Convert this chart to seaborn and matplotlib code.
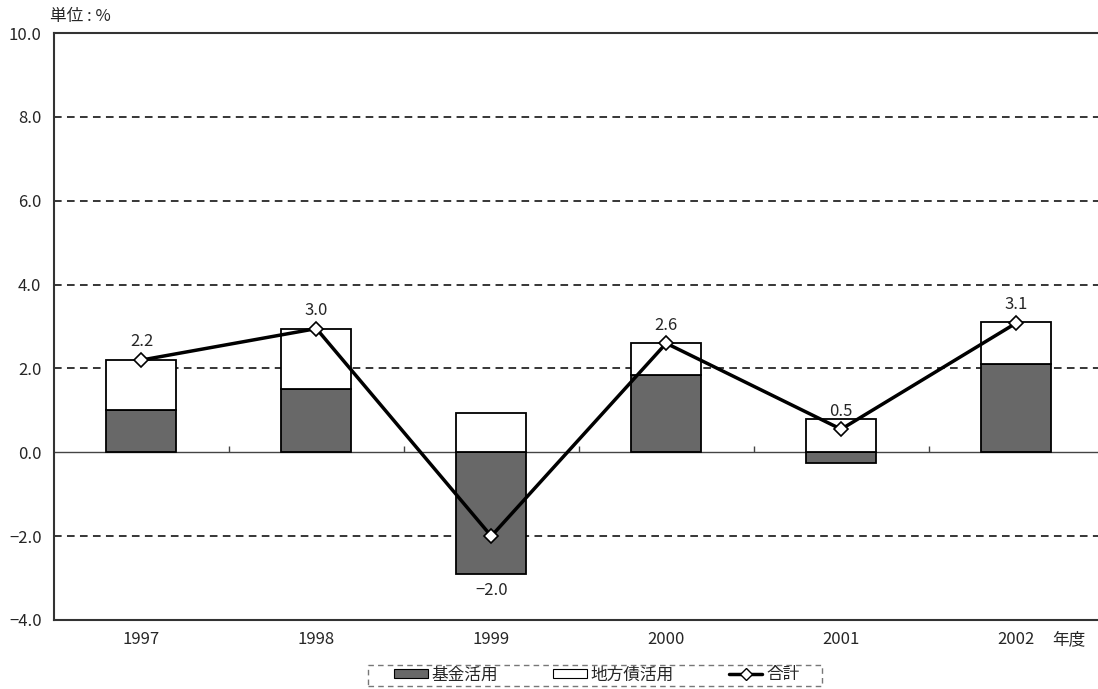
import numpy as np
import pandas as pd
import matplotlib
matplotlib.use('Agg')
import matplotlib.pyplot as plt
from matplotlib.patches import Patch, Rectangle
from matplotlib.lines import Line2D
import seaborn as sns

# データ
years = ['1997', '1998', '1999', '2000', '2001', '2002']
fund = [1.0, 1.5, -2.9, 1.85, -0.25, 2.1]      # 基金活用
bond = [1.2, 1.45, 0.93, 0.75, 0.8, 1.0]        # 地方債活用
total = [2.2, 2.95, -2.0, 2.6, 0.55, 3.08]      # 合計
total_labels = ['2.2', '3.0', '-2.0', '2.6', '0.5', '3.1']

sns.set_style('white')
plt.rcParams['font.family'] = ['Noto Sans CJK JP', 'DejaVu Sans']
plt.rcParams['axes.unicode_minus'] = True

df = pd.DataFrame({'year': years, 'fund': fund, 'bond': bond, 'total': total})
# 地方債は基金がプラスならその上に、マイナスなら0から積み上げ
df['bond_bottom'] = df['fund'].clip(lower=0)

fig = plt.figure(figsize=(10.98, 6.89), dpi=100)
ax = fig.add_axes([54 / 1098, 1 - 620 / 689, 1 - 54 / 1098, (620 - 33) / 689])

fs = 12
dark = '#686868'
sns.barplot(data=df, x='year', y='fund', color=dark, edgecolor='black',
            linewidth=1.3, width=0.4, saturation=1, ax=ax, zorder=3)
sns.barplot(data=df, x='year', y='bond', bottom=df['bond_bottom'], color='white',
            edgecolor='black', linewidth=1.3, width=0.4, saturation=1, ax=ax, zorder=3)
sns.pointplot(data=df, x='year', y='total', color='black', errorbar=None,
              marker='D', markersize=7, markerfacecolor='white',
              markeredgecolor='black', markeredgewidth=1.2, linewidth=2.5,
              ax=ax, zorder=5)

# 数値ラベル
for i, (t, f, lab) in enumerate(zip(total, fund, total_labels)):
    if t >= 0:
        ax.annotate(lab, (i, t), xytext=(0, 7), textcoords='offset points',
                    ha='center', va='bottom', fontsize=fs)
    else:
        ax.annotate(lab.replace('-', '−'), (i, min(f, 0)), xytext=(0, -6),
                    textcoords='offset points', ha='center', va='top', fontsize=fs)

# 軸設定
ax.set_ylim(-4, 10)
ax.set_xlim(-0.5, (1098 - 141) / 175)
ax.set_yticks(np.arange(-4, 10.1, 2))
ax.set_yticklabels([f'{v:.1f}'.replace('-', '−') for v in np.arange(-4, 10.1, 2)])
ax.set_xlabel('')
ax.set_ylabel('')
ax.tick_params(axis='y', length=0, pad=9, labelsize=fs)
ax.tick_params(axis='x', length=0, pad=8, labelsize=fs)

for v in [-2, 2, 4, 6, 8]:
    ax.axhline(v, color='black', linestyle=(0, (5, 3.5)), linewidth=1.1, zorder=1)
ax.axhline(0, color='#444444', linewidth=1.0, zorder=2)
ax.vlines(np.arange(0.5, len(years) - 0.5), 0, 0.14, color='#444444', linewidth=1.0, zorder=2)

for side in ['left', 'top', 'bottom']:
    ax.spines[side].set_color('#333333')
    ax.spines[side].set_linewidth(1.5)
ax.spines['right'].set_visible(False)

fig.text(50 / 1098, 1 - 17 / 689, '単位 : %', fontsize=fs, va='center', ha='left')
fig.text(1052 / 1098, 1 - 640 / 689, '年度', fontsize=fs, va='center', ha='left')

# 凡例（点線の枠）
handles = [Patch(facecolor=dark, edgecolor='black', linewidth=0.8),
           Patch(facecolor='white', edgecolor='black', linewidth=0.8),
           Line2D([], [], color='black', linewidth=2.5, marker='D', markersize=6,
                  markerfacecolor='white', markeredgecolor='black')]
fig.legend(handles, ['基金活用', '地方債活用', '合計'], loc='center',
           bbox_to_anchor=(597 / 1098, 1 - 675 / 689), ncol=3, fontsize=fs,
           frameon=False, handlelength=2.0, handleheight=0.5,
           columnspacing=3.3, handletextpad=0.25, borderpad=0.2,
           borderaxespad=0)
fig.patches.append(Rectangle((368 / 1098, 1 - 686 / 689), (822 - 368) / 1098, 21 / 689,
                             transform=fig.transFigure, fill=False,
                             edgecolor='#777777', linewidth=1.0,
                             linestyle=(0, (4, 3))))

fig.savefig('out.png', dpi=100)
